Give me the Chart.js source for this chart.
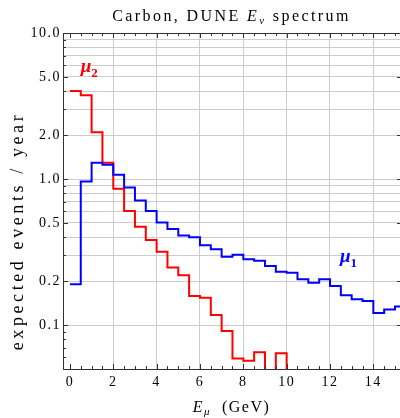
<!DOCTYPE html>
<html><head><meta charset="utf-8">
<script src="https://cdn.jsdelivr.net/npm/chart.js@4.4.1/dist/chart.umd.min.js"></script>
<style>html,body{margin:0;padding:0;background:#fff}#wrap{width:400px;height:418px;position:relative}</style>
</head><body><div id="wrap"><canvas id="c"></canvas></div>
<script>
// ---- data ----
const binLeftEdges = [0,0.5,1,1.5,2,2.5,3,3.5,4,4.5,5,5.5,6,6.5,7,7.5,8,8.5,9,9.5,10,10.5,11,11.5,12,12.5,13,13.5,14,14.5,15];
const binWidth = 0.5;
const mu1Events = [0.19,0.96,1.29,1.25,1.07,0.875,0.713,0.605,0.504,0.455,0.41,0.40,0.352,0.33,0.294,0.303,0.282,0.276,0.254,0.232,0.228,0.206,0.195,0.206,0.185,0.16,0.150,0.146,0.121,0.128,0.134];
// 0.01 marks bins that fall below the plotted range
const mu2Events = [4.0,3.75,2.09,1.29,0.858,0.605,0.472,0.383,0.318,0.248,0.219,0.158,0.154,0.117,0.091,0.059,0.057,0.065,0.01,0.064,0.01];
const xTickValues = [0,2,4,6,8,10,12,14];
const yGridValues = [0.1,0.2,0.3,0.4,0.5,0.6,0.7,0.8,0.9,1,2,3,4,5,6,7,8,9,10];
const yLabelValues = [0.1,0.2,0.5,1,2,5,10];
const yLabelTexts = ['0.1','0.2','0.5','1.0','2.0','5.0','10.0'];
const yMinorTickValues = [0.06,0.07,0.08,0.09,0.3,0.4,0.6,0.7,0.8,0.9,3,4,6,7,8,9];

function stepPoints(vals){
  const pts = vals.map((v,i)=>({x:binLeftEdges[i], y:v}));
  pts.push({x:binLeftEdges[vals.length-1]+binWidth, y:vals[vals.length-1]});
  return pts;
}

const SERIF = '"Liberation Serif", "DejaVu Serif", serif';

function drawRich(ctx, parts, x, y, align, spacing){
  ctx.save();
  ctx.letterSpacing = spacing + 'px';
  let w = 0;
  parts.forEach(p=>{ctx.font = p.font; p.w = ctx.measureText(p.text).width; w += p.w;});
  let cx = align === 'center' ? x - w/2 : x;
  ctx.textBaseline = 'alphabetic'; ctx.textAlign = 'left';
  parts.forEach(p=>{ctx.font = p.font; ctx.fillStyle = p.color || '#000'; ctx.fillText(p.text, cx, y + (p.dy||0)); cx += p.w;});
  ctx.restore();
}

const framePlugin = {
  id:'frame',
  beforeDraw(chart){ chart.ctx.letterSpacing = '1.5px'; },
  afterDraw(chart){
    const ctx = chart.ctx, a = chart.chartArea, xs = chart.scales.x, ys = chart.scales.y;
    ctx.save();
    ctx.letterSpacing = '0px';
    ctx.strokeStyle = '#333'; ctx.lineWidth = 1;
    ctx.beginPath();
    ctx.moveTo(a.left+0.5, a.top); ctx.lineTo(a.left+0.5, a.bottom+1);
    ctx.moveTo(a.left, a.bottom+0.5); ctx.lineTo(a.right, a.bottom+0.5);
    ctx.moveTo(a.left, a.top+0.5); ctx.lineTo(a.right, a.top+0.5);
    // x ticks on bottom and top
    for (let v = 0; v <= 15.01; v += 0.5){
      const px = Math.round(xs.getPixelForValue(v)) + 0.5;
      const len = xTickValues.includes(v) ? 5 : 3;
      ctx.moveTo(px, a.bottom); ctx.lineTo(px, a.bottom - len);
      ctx.moveTo(px, a.top); ctx.lineTo(px, a.top + len);
    }
    // y ticks left (and right, major only)
    yLabelValues.forEach(v=>{
      const py = Math.round(ys.getPixelForValue(v)) + 0.5;
      ctx.moveTo(a.left, py); ctx.lineTo(a.left + 5, py);
      ctx.moveTo(a.right, py); ctx.lineTo(a.right - 3, py);
    });
    yMinorTickValues.forEach(v=>{
      const py = Math.round(ys.getPixelForValue(v)) + 0.5;
      ctx.moveTo(a.left, py); ctx.lineTo(a.left + 3, py);
    });
    ctx.stroke();
    ctx.restore();

    // title
    drawRich(ctx, [
      {text:'Carbon, DUNE ', font:'16px '+SERIF},
      {text:'E', font:'italic 16px '+SERIF},
      {text:'ν', font:'italic 11px '+SERIF, dy:3},
      {text:' spectrum', font:'16px '+SERIF}
    ], (a.left + a.right)/2, 21, 'center', 2.4);
    // x title
    drawRich(ctx, [
      {text:'E', font:'italic 16px '+SERIF},
      {text:'μ', font:'italic 11px '+SERIF, dy:3},
      {text:'  (GeV)', font:'16px '+SERIF}
    ], (a.left + a.right)/2, 412, 'center', 1.5);
    // y title
    ctx.save();
    ctx.translate(23, 231);
    ctx.rotate(-Math.PI/2);
    drawRich(ctx, [{text:'expected events / year', font:'18px '+SERIF}], 0, 0, 'center', 3.6);
    ctx.restore();
    // series labels, placed in data coordinates
    drawRich(ctx, [
      {text:'μ', font:'italic bold 19px '+SERIF, color:'#ff0000'},
      {text:'2', font:'bold 13px '+SERIF, color:'#ff0000', dy:5}
    ], xs.getPixelForValue(0.5), ys.getPixelForValue(5.4), 'left', 0);
    drawRich(ctx, [
      {text:'μ', font:'italic bold 19px '+SERIF, color:'#0000ff'},
      {text:'1', font:'bold 13px '+SERIF, color:'#0000ff', dy:5}
    ], xs.getPixelForValue(12.46), ys.getPixelForValue(0.27), 'left', 0);
  }
};

new Chart(document.getElementById('c'), {
  type:'line',
  data:{datasets:[
    {data: stepPoints(mu1Events), borderColor:'#0000ff', borderWidth:2, stepped:'before', pointRadius:0, fill:false, tension:0},
    {data: stepPoints(mu2Events), borderColor:'#ff0000', borderWidth:2, stepped:'before', pointRadius:0, fill:false, tension:0}
  ]},
  options:{
    responsive:true, maintainAspectRatio:false, animation:false, devicePixelRatio:1,
    layout:{padding:{top:33, left:0, right:0, bottom:0}},
    plugins:{legend:{display:false}, tooltip:{enabled:false}, title:{display:false}},
    scales:{
      x:{type:'linear', min:-0.32, max:15.23,
        afterBuildTicks: s=>{ s.ticks = xTickValues.map(v=>({value:v})); },
        ticks:{autoSkip:false, maxRotation:0, padding:5, color:'#000', font:{family:SERIF, size:14}},
        grid:{color: c => (c.tick && c.tick.value === 0) ? 'rgba(0,0,0,0)' : '#cdcdcd', drawTicks:false, lineWidth:1},
        border:{display:false},
        afterFit: s=>{ s.height = 49; }
      },
      y:{type:'logarithmic', min:0.05, max:10,
        afterBuildTicks: s=>{ s.ticks = yGridValues.map(v=>({value:v})); },
        ticks:{autoSkip:false, padding:2, color:'#000', font:{family:SERIF, size:14},
          callback: v => { const i = yLabelValues.indexOf(v); return i >= 0 ? yLabelTexts[i] : ''; }},
        grid:{color:'#cdcdcd', drawTicks:false, lineWidth:1},
        border:{display:false},
        afterFit: s=>{ s.width = 63; }
      }
    }
  },
  plugins:[framePlugin]
});
</script>
</body></html>
